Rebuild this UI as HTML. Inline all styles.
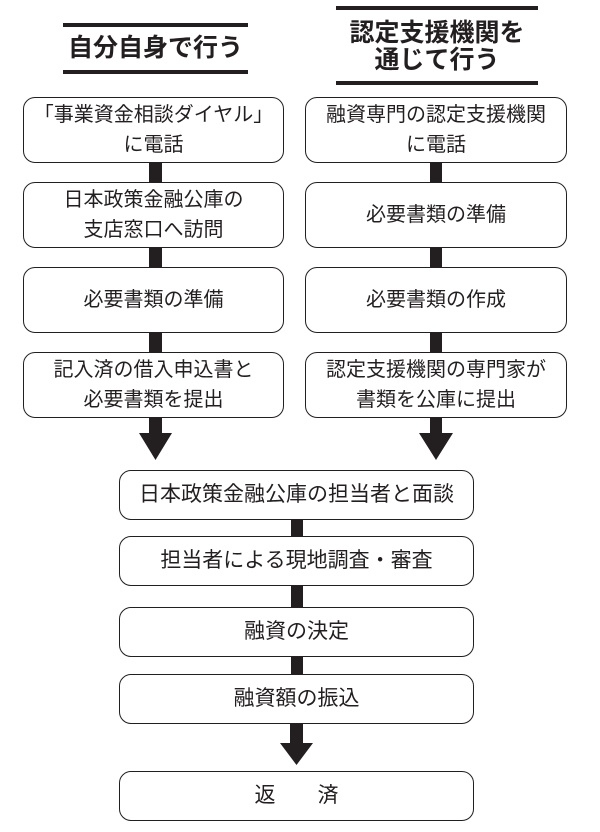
<!DOCTYPE html>
<html><head><meta charset="utf-8"><style>
body{margin:0;width:600px;height:832px;background:#fff;position:relative;overflow:hidden;font-family:"Liberation Sans","Noto Sans CJK JP",sans-serif;color:#231f20}
.b{position:absolute;box-sizing:border-box;border:1.5px solid #231f20;border-radius:12px;display:flex;align-items:center;justify-content:center;text-align:center;font-size:20px;line-height:30px;background:#fff;white-space:nowrap}
.b.w{font-size:21px}
.l{position:absolute;background:#231f20}
.t{position:absolute;text-align:center;font-weight:bold;font-size:25px;line-height:27px}
</style></head><body>
<div class="l" style="left:63px;top:23px;width:185px;height:4px"></div>
<div class="t" style="left:40px;top:35px;width:231px">自分自身で行う</div>
<div class="l" style="left:63px;top:70px;width:185px;height:4px"></div>
<div class="l" style="left:336px;top:6px;width:202px;height:4px"></div>
<div class="t" style="left:317px;top:20px;width:240px">認定支援機関を<br>通じて行う</div>
<div class="l" style="left:336px;top:81px;width:202px;height:4px"></div>

<div class="l" style="left:149px;top:160px;width:13px;height:200px"></div>
<div class="l" style="left:430px;top:160px;width:12px;height:200px"></div>

<div class="b" style="left:23px;top:97px;width:261px;height:66px">「事業資金相談ダイヤル」<br>に電話</div>
<div class="b" style="left:23px;top:182px;width:261px;height:66px">日本政策金融公庫の<br>支店窓口へ訪問</div>
<div class="b" style="left:23px;top:267px;width:261px;height:66px">必要書類の準備</div>
<div class="b" style="left:23px;top:352px;width:261px;height:66px">記入済の借入申込書と<br>必要書類を提出</div>

<div class="b" style="left:305px;top:97px;width:262px;height:66px">融資専門の認定支援機関<br>に電話</div>
<div class="b" style="left:305px;top:182px;width:262px;height:66px">必要書類の準備</div>
<div class="b" style="left:305px;top:267px;width:262px;height:66px">必要書類の作成</div>
<div class="b" style="left:305px;top:352px;width:262px;height:66px">認定支援機関の専門家が<br>書類を公庫に提出</div>

<svg style="position:absolute;left:0;top:0" width="600" height="832">
<g fill="#231f20">
<polygon points="149,418 162,418 162,433 172,433 155.5,460 139,433 149,433"/>
<polygon points="430,418 442,418 442,433 453,433 436,460 419,433 430,433"/>
<rect x="291" y="518" width="12" height="90"/>
<rect x="291" y="655" width="12" height="20"/>
<polygon points="290,722 303,722 303,743 313,743 296.5,765 280,743 290,743"/>
</g></svg>

<div class="b w" style="left:119px;top:470px;width:355px;height:50px">日本政策金融公庫の担当者と面談</div>
<div class="b w" style="left:119px;top:536px;width:355px;height:50px">担当者による現地調査・審査</div>
<div class="b w" style="left:119px;top:607px;width:355px;height:50px">融資の決定</div>
<div class="b w" style="left:119px;top:674px;width:355px;height:50px">融資額の振込</div>
<div class="b w" style="left:119px;top:771px;width:355px;height:50px">返　　済</div>
</body></html>
